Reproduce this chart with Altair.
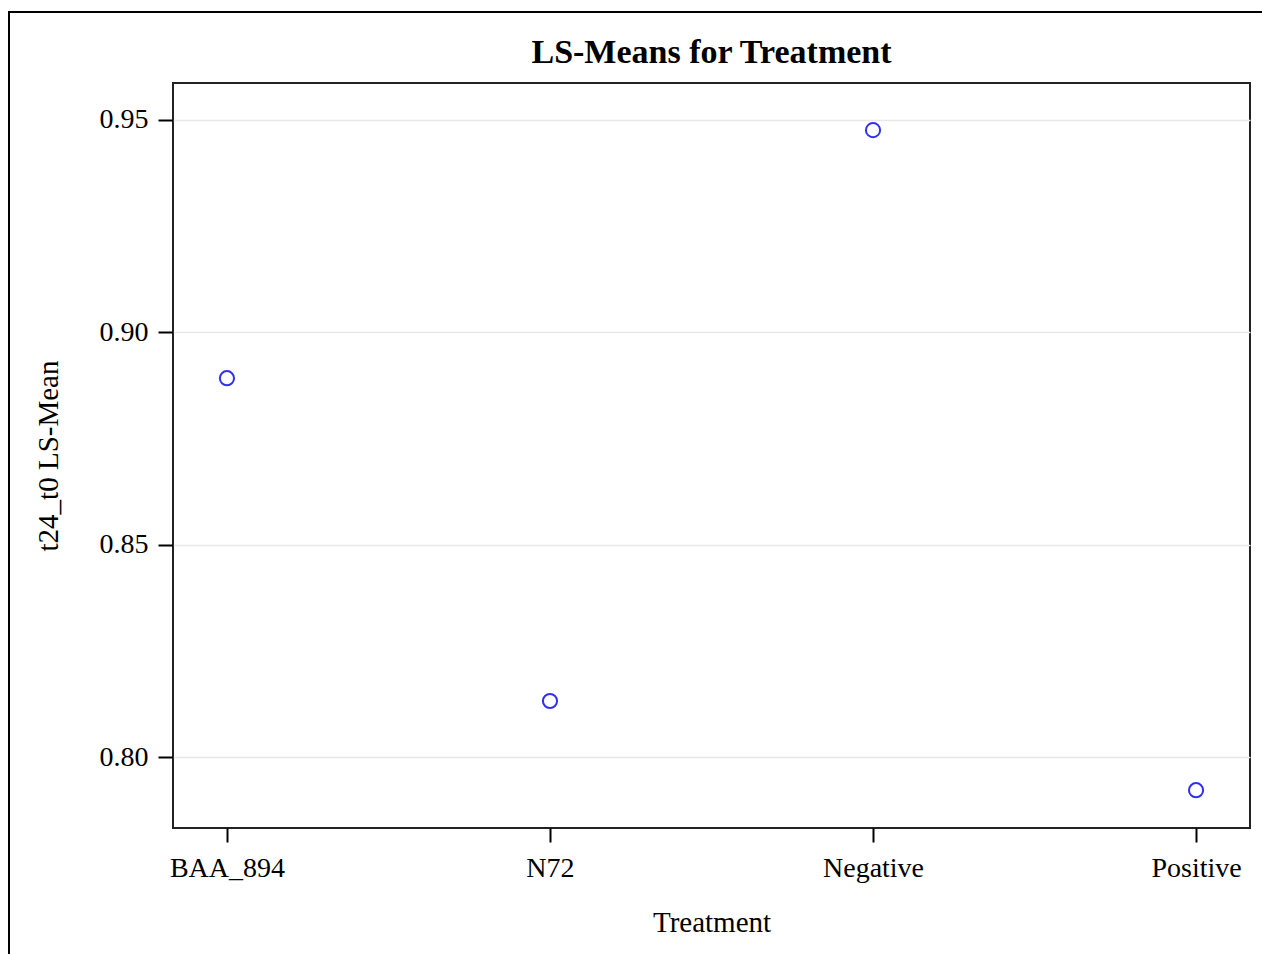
import altair as alt
import pandas as pd

treatments = ["BAA_894", "N72", "Negative", "Positive"]
lsmeans = [0.8892, 0.8132, 0.9476, 0.7922]
y_ticks = [0.80, 0.85, 0.90, 0.95]

df = pd.DataFrame({"Treatment": treatments, "LSMean": lsmeans})

FONT = "Liberation Serif"

points = alt.Chart(df).mark_point(
    shape="circle", filled=False, color="#3030ee", strokeWidth=2, size=200, opacity=1
).encode(
    x=alt.X("Treatment:N", sort=treatments,
            scale=alt.Scale(type="point", padding=0.167),
            axis=alt.Axis(title="Treatment", labelAngle=0, grid=False,
                          tickSize=14, labelPadding=12, titlePadding=26)),
    y=alt.Y("LSMean:Q",
            scale=alt.Scale(domain=[0.7833, 0.9587], nice=False, zero=False),
            axis=alt.Axis(title="t24_t0 LS-Mean", values=y_ticks, format=".2f",
                          tickSize=15, labelPadding=10, titlePadding=36,
                          grid=True, gridColor="#e8e8e8", gridWidth=1.5)),
)

frame = alt.Chart(alt.Data(values=[{"a": 1}])).mark_rect(
    fill=None, stroke="black", strokeWidth=2, clip=False
).encode(
    x=alt.value(-164), x2=alt.value(1100), y=alt.value(-71), y2=alt.value(890)
)

chart = alt.layer(frame, points).properties(
    width=1077,
    height=745,
    title=alt.TitleParams("LS-Means for Treatment", font=FONT, fontSize=34,
                          fontWeight="bold", anchor="middle", frame="group",
                          baseline="alphabetic", offset=-86, color="black"),
    padding={"left": 173, "top": 83, "right": 12, "bottom": 126},
    autosize=alt.AutoSizeParams(type="none"),
    background="white",
).configure_axis(
    labelFont=FONT, titleFont=FONT, labelFontSize=28, titleFontSize=29,
    labelColor="black", titleColor="black", titleFontWeight="normal",
    domain=False, tickColor="black", tickWidth=2,
).configure_view(
    stroke="#222222", strokeWidth=2
)

chart.save("out.html", embed_options={"renderer": "svg", "actions": False})
